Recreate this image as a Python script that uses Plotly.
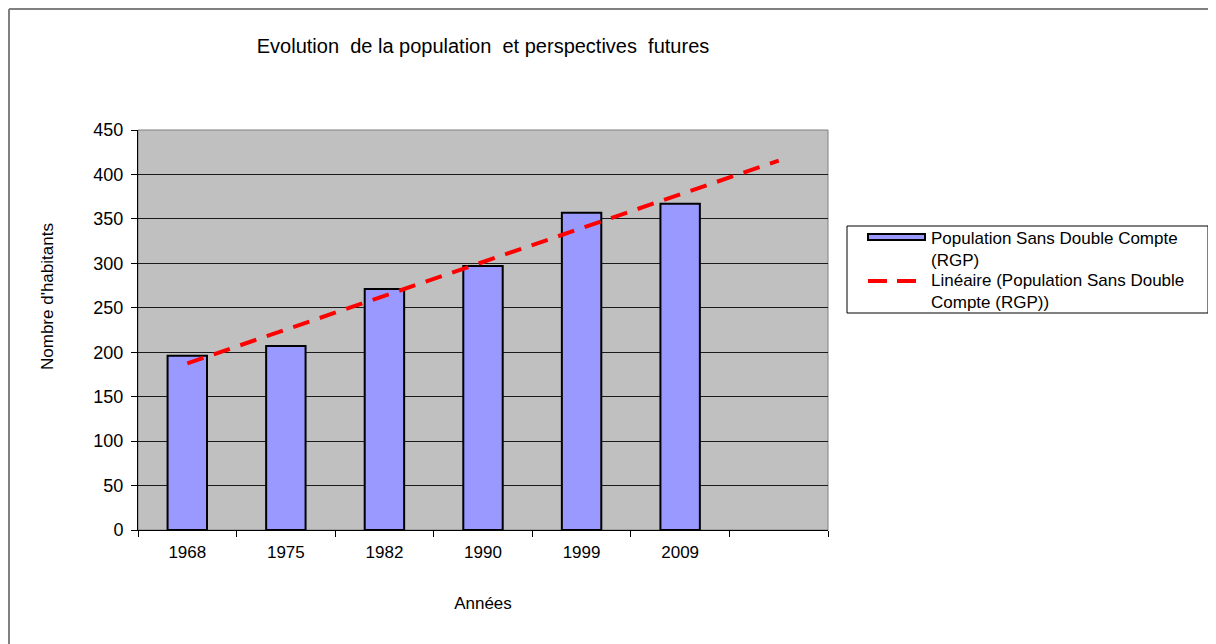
import numpy as np
import plotly.graph_objects as go

# Données
annees = ['1968', '1975', '1982', '1990', '1999', '2009']
population = [196, 207, 271, 297, 357, 367]
nom_serie = 'Population Sans Double Compte (RGP)'
nom_tendance = 'Linéaire (Population Sans Double Compte (RGP))'

# positions des catégories (une catégorie vide en plus pour la tendance)
pos = list(range(1, len(annees) + 1))
pos_tend = list(range(1, len(annees) + 2))

# Tendance linéaire (comme Excel), prolongée d'une période
pente, orig = np.polyfit(pos, population, 1)
tendance = [pente * p + orig for p in pos_tend]

police = 'Liberation Sans, Arial, sans-serif'
couleur_barre = '#9999FF'
couleur_tend = '#FF0000'

fig = go.Figure()

fig.add_trace(go.Bar(
    x=pos,
    y=population,
    name=nom_serie,
    width=0.4,
    marker=dict(color=couleur_barre, line=dict(color='black', width=2)),
))

fig.add_trace(go.Scatter(
    x=pos_tend,
    y=tendance,
    mode='lines',
    name=nom_tendance,
    line=dict(color=couleur_tend, width=4, dash='17px,11px'),
))

# coordonnées écran -> papier (zone de tracé 138..828 x 130..530)
def px(x):
    return (x - 138) / 690

def py(y):
    return (530 - y) / 400

# cadre extérieur (bord gris en haut et à gauche)
fig.add_shape(type='line', xref='paper', yref='paper',
              x0=px(9), x1=px(1216), y0=py(9), y1=py(9),
              line=dict(color='#808080', width=2))
fig.add_shape(type='line', xref='paper', yref='paper',
              x0=px(9), x1=px(9), y0=py(9), y1=py(644),
              line=dict(color='#808080', width=2))

fig.add_annotation(
    text="Nombre d'habitants", xref='paper', yref='paper',
    x=px(47), y=py(297), xanchor='center', yanchor='middle',
    textangle=-90, showarrow=False,
    font=dict(size=17, color='black', family=police),
)

# légende façon Excel (symbole large)
fig.add_shape(type='rect', xref='paper', yref='paper',
              x0=px(847), x1=px(1208), y0=py(313), y1=py(226),
              line=dict(color='black', width=1), fillcolor='white')
fig.add_shape(type='rect', xref='paper', yref='paper',
              x0=px(868), x1=px(925), y0=py(240), y1=py(234),
              line=dict(color='black', width=2), fillcolor=couleur_barre)
fig.add_shape(type='line', xref='paper', yref='paper',
              x0=px(868), x1=px(916), y0=py(281), y1=py(281),
              line=dict(color=couleur_tend, width=4, dash='19px,10px'))

textes_legende = ['Population Sans Double Compte<br>(RGP)',
                  'Linéaire (Population Sans Double<br>Compte (RGP))']
for texte, yl in zip(textes_legende, [249, 291]):
    fig.add_annotation(
        text=texte, xref='paper', yref='paper', align='left',
        x=px(929), y=py(yl), xanchor='left', yanchor='middle',
        showarrow=False,
        font=dict(size=17, color='black', family=police),
    )

fig.update_layout(
    width=1208,
    height=636,
    margin=dict(l=130, r=388, t=122, b=114),
    paper_bgcolor='white',
    plot_bgcolor='#C0C0C0',
    font=dict(family=police, color='black', size=16),
    title=dict(
        text='Evolution  de la population  et perspectives  futures',
        x=(483 - 8) / 1208, xanchor='center',
        y=1 - (46 - 8) / 636, yanchor='middle',
        font=dict(size=20, family=police, color='black'),
    ),
    showlegend=False,
    xaxis=dict(
        range=[0.5, len(annees) + 1.5],
        tickvals=pos,
        ticktext=annees,
        ticks='',
        showgrid=False,
        zeroline=False,
        showline=True, linecolor='black', linewidth=1,
        minor=dict(tick0=0.5, dtick=1, ticks='outside', ticklen=6,
                   tickcolor='black', showgrid=False),
        tickfont=dict(size=17),
        ticklabelstandoff=7,
        title=dict(text='Années', standoff=35, font=dict(size=17)),
        fixedrange=True,
    ),
    yaxis=dict(
        range=[0, 450],
        dtick=50,
        ticks='outside', ticklen=6, tickcolor='black',
        showgrid=True, gridcolor='#1a1a1a', gridwidth=1,
        zeroline=False,
        showline=True, linecolor='black', linewidth=1,
        tickfont=dict(size=18),
        ticklabelstandoff=4,
    ),
)

# bord du fond gris
fig.add_shape(type='rect', xref='paper', yref='paper', x0=0, x1=1, y0=0, y1=1,
              line=dict(color='#808080', width=1), layer='below')

fig.write_html('out.html')
